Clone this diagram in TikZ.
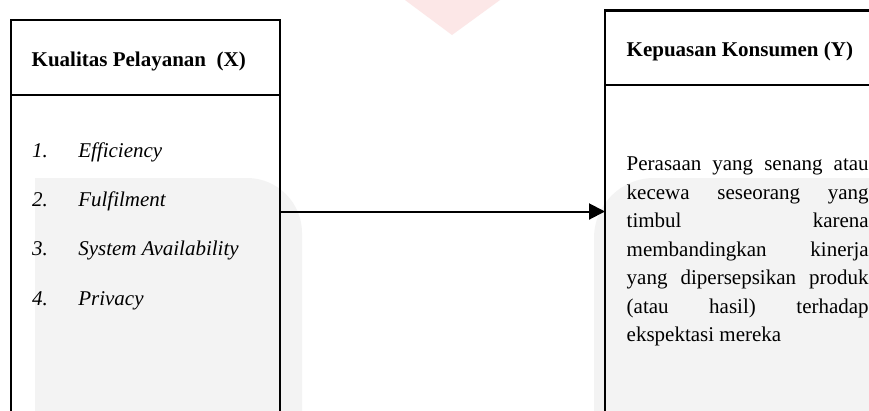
\documentclass[tikz,border=0pt]{standalone}
\usepackage{fontspec}
\setmainfont{Liberation Serif}
\usetikzlibrary{arrows.meta}
\definecolor{wmgray}{RGB}{243,243,243}
\definecolor{wmpink}{RGB}{252,231,231}
\begin{document}
\begin{tikzpicture}[x=1pt,y=-1pt,
  box/.style={draw=black,line width=2.2pt,inner sep=0pt,outer sep=0pt,rectangle,anchor=north west},
  txt/.style={anchor=base west,inner sep=0pt,outer sep=0pt,font=\fontsize{21}{25}\selectfont},
  titletxt/.style={txt,font=\fontsize{21}{25}\selectfont\bfseries},
  itemtxt/.style={txt,font=\fontsize{21}{25}\selectfont\itshape},
  conn/.style={line width=2pt,-{Triangle[length=16pt,width=16pt]}}]
\useasboundingbox (0,0) rectangle (869,410);
\fill[white] (0,0) rectangle (869,410);
% faint watermark shapes
\fill[wmpink] (405,0) -- (500,0) -- (452,35) -- cycle;
\fill[wmgray] (35,440) -- (35,178) [rounded corners=55pt] -- (302,178) [sharp corners] -- (302,440) -- cycle;
\fill[wmgray] (900,440) -- (900,178) [rounded corners=60pt] -- (594,178) [sharp corners] -- (594,440) -- cycle;
% boxes
\node[box,minimum width=269.3pt,minimum height=75pt] (xh) at (10.7,20) {};
\node[box,minimum width=269.3pt,minimum height=340pt] (xb) at (xh.south west) {};
\node[box,minimum width=300pt,minimum height=74.5pt] (yh) at (605,10.5) {};
\node[box,minimum width=300pt,minimum height=340pt] (yb) at (yh.south west) {};
% titles
\node[titletxt] (xt) at (31.7,66.7) {Kualitas Pelayanan\ \ (X)};
\node[titletxt] (yt) at (626.7,56) {Kepuasan Konsumen (Y)};
% list
\node[itemtxt] (n1) at (32,157.3) {1.};
\node[itemtxt] (i1) at (78.3,157.3) {Efficiency};
\node[itemtxt] (n2) at (32,206.6) {2.};
\node[itemtxt] (i2) at (78.3,206.6) {Fulfilment};
\node[itemtxt] (n3) at (32,255.9) {3.};
\node[itemtxt] (i3) at (78.3,255.9) {System Availability};
\node[itemtxt] (n4) at (32,305.2) {4.};
\node[itemtxt] (i4) at (78.3,305.2) {Privacy};
% definition text
\node[txt] (r1) at (626.7,170.7) {\makebox[242pt][s]{Perasaan yang senang atau}};
\node[txt] (r2) at (626.7,199.2) {\makebox[242pt][s]{kecewa seseorang yang}};
\node[txt] (r3) at (626.7,227.7) {\makebox[242pt][s]{timbul karena}};
\node[txt] (r4) at (626.7,256.2) {\makebox[242pt][s]{membandingkan kinerja}};
\node[txt] (r5) at (626.7,284.7) {\makebox[242pt][s]{yang dipersepsikan produk}};
\node[txt] (r6) at (626.7,313.2) {\makebox[242pt][s]{(atau hasil) terhadap}};
\node[txt] (r7) at (626.7,341.7) {ekspektasi mereka};
% connector
\coordinate (ay) at (0,211.5);
\draw[conn] (xb.east |- ay) -- (yb.west |- ay);
\end{tikzpicture}
\end{document}
